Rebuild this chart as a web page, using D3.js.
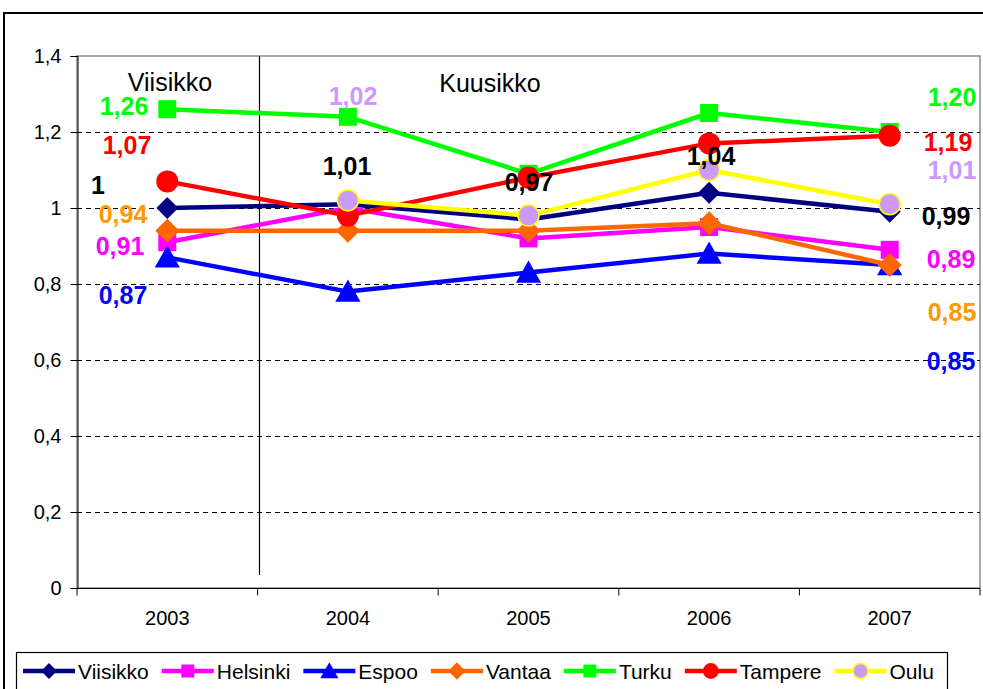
<!DOCTYPE html>
<html>
<head>
<meta charset="utf-8">
<script src="https://cdn.jsdelivr.net/npm/d3@7"></script>
<style>
  body { margin: 0; background: #fff; }
  svg { font-family: "Liberation Sans", Arial, sans-serif; }
</style>
</head>
<body>
<div id="chart"></div>
<script>
var years = ["2003", "2004", "2005", "2006", "2007"];
var yTicks = [0, 0.2, 0.4, 0.6, 0.8, 1, 1.2, 1.4];

var viisikko = [1.00, 1.01, 0.97, 1.04, 0.99];
var helsinki = [0.91, 1.00, 0.92, 0.95, 0.89];
var espoo    = [0.87, 0.78, 0.83, 0.88, 0.85];
var vantaa   = [0.94, 0.94, 0.94, 0.96, 0.85];
var turku    = [1.26, 1.24, 1.09, 1.25, 1.20];
var tampere  = [1.07, 0.98, 1.08, 1.17, 1.19];
var oulu     = [null, 1.02, 0.98, 1.10, 1.01];

var seriesNames = ["Viisikko", "Helsinki", "Espoo", "Vantaa", "Turku", "Tampere", "Oulu"];
var seriesValues = [viisikko, helsinki, espoo, vantaa, turku, tampere, oulu];

// styling per series
var styles = [
  {line: "#000080", fill: "#000080", stroke: "#000080", shape: "diamond", size: 11},
  {line: "#FF00FF", fill: "#FF00FF", stroke: "#FF00FF", shape: "square", size: 9},
  {line: "#0000FF", fill: "#0000FF", stroke: "#0000FF", shape: "triangle", size: 12},
  {line: "#FF6600", fill: "#FF6600", stroke: "#FF6600", shape: "diamond", size: 12},
  {line: "#00FF00", fill: "#00FF00", stroke: "#00FF00", shape: "square", size: 9},
  {line: "#FF0000", fill: "#FF0000", stroke: "#FF0000", shape: "circle", size: 11},
  {line: "#FFFF00", fill: "#CC99FF", stroke: "#FFFF00", shape: "circle", size: 10.5}
];

// data labels placed by hand in the original (text, colour, centre x, baseline y)
var labelTexts  = ["1,26", "1,07", "1", "0,94", "0,91", "0,87",
                   "1,02", "1,01", "0,97", "1,04",
                   "1,20", "1,19", "1,01", "0,99", "0,89", "0,85", "0,85"];
var labelColors = ["#00FF00", "#FF0000", "#000000", "#FF9900", "#FF00FF", "#0000FF",
                   "#CC99FF", "#000000", "#000000", "#000000",
                   "#00FF00", "#FF0000", "#CC99FF", "#000000", "#FF00FF", "#FF9900", "#0000FF"];
var labelPos = [[124,115],[127,154],[98,194],[123,223],[120,255],[123,304],
                [353,105],[347,175],[529,191],[711,165],
                [952,106],[948,151],[952,179],[946,225],[951,268],[952,321],[951,370]];

var svgwidth = 983, svgheight = 689;
var plot = {left: 77, right: 980, top: 56, bottom: 588};

var svg = d3.select("#chart").append("svg")
  .attr("width", svgwidth)
  .attr("height", svgheight);

// outer chart border
svg.append("rect")
  .attr("x", 4).attr("y", 13)
  .attr("width", 990).attr("height", 700)
  .attr("fill", "none")
  .attr("stroke", "#000").attr("stroke-width", 2);

var x = d3.scaleBand().domain(years).range([plot.left, plot.right]);
var y = d3.scaleLinear().domain([0, 1.4]).range([plot.bottom, plot.top]);
var cx = function(yr) { return x(yr) + x.bandwidth() / 2; };
var fmt = function(v) { return String(Math.round(v * 10) / 10).replace(".", ","); };

// plot area border (grey)
svg.append("rect")
  .attr("x", plot.left).attr("y", plot.top)
  .attr("width", plot.right - plot.left).attr("height", plot.bottom - plot.top)
  .attr("fill", "none").attr("stroke", "#8c8c8c").attr("stroke-width", 1.5);

// dashed gridlines
svg.append("g").selectAll("line")
  .data(yTicks.filter(function(d) { return d > 0 && d < 1.4; }))
  .enter().append("line")
  .attr("x1", plot.left).attr("x2", plot.right)
  .attr("y1", function(d) { return Math.round(y(d)) + 0.5; })
  .attr("y2", function(d) { return Math.round(y(d)) + 0.5; })
  .attr("stroke", "#000").attr("stroke-width", 1)
  .attr("stroke-dasharray", "5,4");

// y axis
var yAxis = d3.axisLeft(y).tickValues(yTicks).tickFormat(fmt).tickSize(7).tickPadding(9);
var yg = svg.append("g").attr("transform", "translate(" + (plot.left + 0.5) + ",0)").call(yAxis);
yg.attr("font-family", null);
yg.select(".domain").attr("stroke", "#000");
yg.selectAll("text").attr("font-size", 20).attr("fill", "#000");

// x axis: ticks between categories
var xg = svg.append("g").attr("transform", "translate(0," + (plot.bottom + 0.5) + ")");
xg.append("line").attr("x1", plot.left).attr("x2", plot.right).attr("stroke", "#000");
xg.selectAll("line.tick")
  .data(years.concat(["end"]))
  .enter().append("line")
  .attr("class", "tick")
  .attr("x1", function(d) { return d === "end" ? plot.right : x(d); })
  .attr("x2", function(d) { return d === "end" ? plot.right : x(d); })
  .attr("y1", 0).attr("y2", 7)
  .attr("stroke", "#000");
xg.selectAll("text")
  .data(years)
  .enter().append("text")
  .attr("x", cx)
  .attr("y", 36)
  .attr("text-anchor", "middle")
  .attr("font-size", 20)
  .text(function(d) { return d; });

// divider between Viisikko and Kuusikko period
svg.append("line")
  .attr("x1", 259.5).attr("x2", 259.5)
  .attr("y1", plot.top).attr("y2", 575)
  .attr("stroke", "#000").attr("stroke-width", 1.2);

svg.append("text").attr("x", 170).attr("y", 91).attr("text-anchor", "middle")
  .attr("font-size", 25).text("Viisikko");
svg.append("text").attr("x", 490).attr("y", 92).attr("text-anchor", "middle")
  .attr("font-size", 25).text("Kuusikko");

function markerPath(shape, s) {
  if (shape === "diamond") return "M0," + (-s) + "L" + s + ",0L0," + s + "L" + (-s) + ",0Z";
  if (shape === "square") return "M" + (-s) + "," + (-s) + "H" + s + "V" + s + "H" + (-s) + "Z";
  if (shape === "triangle") return "M0," + (-s) + "L" + (s * 1.05) + "," + (s * 0.85) + "L" + (-s * 1.05) + "," + (s * 0.85) + "Z";
  return null;
}

function drawMarker(g, st, scale) {
  var s = st.size * (scale || 1);
  if (st.shape === "circle") {
    g.append("circle").attr("r", s).attr("fill", st.fill)
      .attr("stroke", st.stroke).attr("stroke-width", st.fill !== st.stroke ? 1.5 : 0);
  } else {
    g.append("path").attr("d", markerPath(st.shape, s)).attr("fill", st.fill);
  }
}

var line = d3.line()
  .defined(function(d) { return d.v !== null; })
  .x(function(d) { return cx(d.year); })
  .y(function(d) { return y(d.v); });

seriesValues.forEach(function(vals, i) {
  var pts = years.map(function(yr, j) { return {year: yr, v: vals[j]}; });
  var st = styles[i];
  var g = svg.append("g");
  g.append("path")
    .datum(pts)
    .attr("d", line)
    .attr("fill", "none")
    .attr("stroke", st.line)
    .attr("stroke-width", 4.5)
    .attr("stroke-linejoin", "round");
  pts.filter(function(d) { return d.v !== null; }).forEach(function(d) {
    var m = g.append("g").attr("transform", "translate(" + cx(d.year) + "," + y(d.v) + ")");
    drawMarker(m, st);
  });
});

// data labels
svg.append("g").selectAll("text")
  .data(labelTexts)
  .enter().append("text")
  .attr("x", function(d, i) { return labelPos[i][0]; })
  .attr("y", function(d, i) { return labelPos[i][1]; })
  .attr("text-anchor", "middle")
  .attr("font-size", 25)
  .attr("font-weight", "bold")
  .attr("fill", function(d, i) { return labelColors[i]; })
  .text(function(d) { return d; });

// legend
var legend = svg.append("g");
legend.append("rect")
  .attr("x", 16.5).attr("y", 652.5)
  .attr("width", 931).attr("height", 50)
  .attr("fill", "#fff").attr("stroke", "#000").attr("stroke-width", 1.2);

var lx = 23;
seriesNames.forEach(function(name, i) {
  var st = styles[i];
  var item = legend.append("g").attr("transform", "translate(" + lx + ",671)");
  item.append("line").attr("x1", 0).attr("x2", 52)
    .attr("stroke", st.line).attr("stroke-width", 4.5);
  var m = item.append("g").attr("transform", "translate(26,0)");
  drawMarker(m, st, 0.72);
  var t = item.append("text").attr("x", 55).attr("y", 7.5)
    .attr("font-size", 21).text(name);
  lx += 55 + t.node().getComputedTextLength() + 13;
});
</script>
</body>
</html>
